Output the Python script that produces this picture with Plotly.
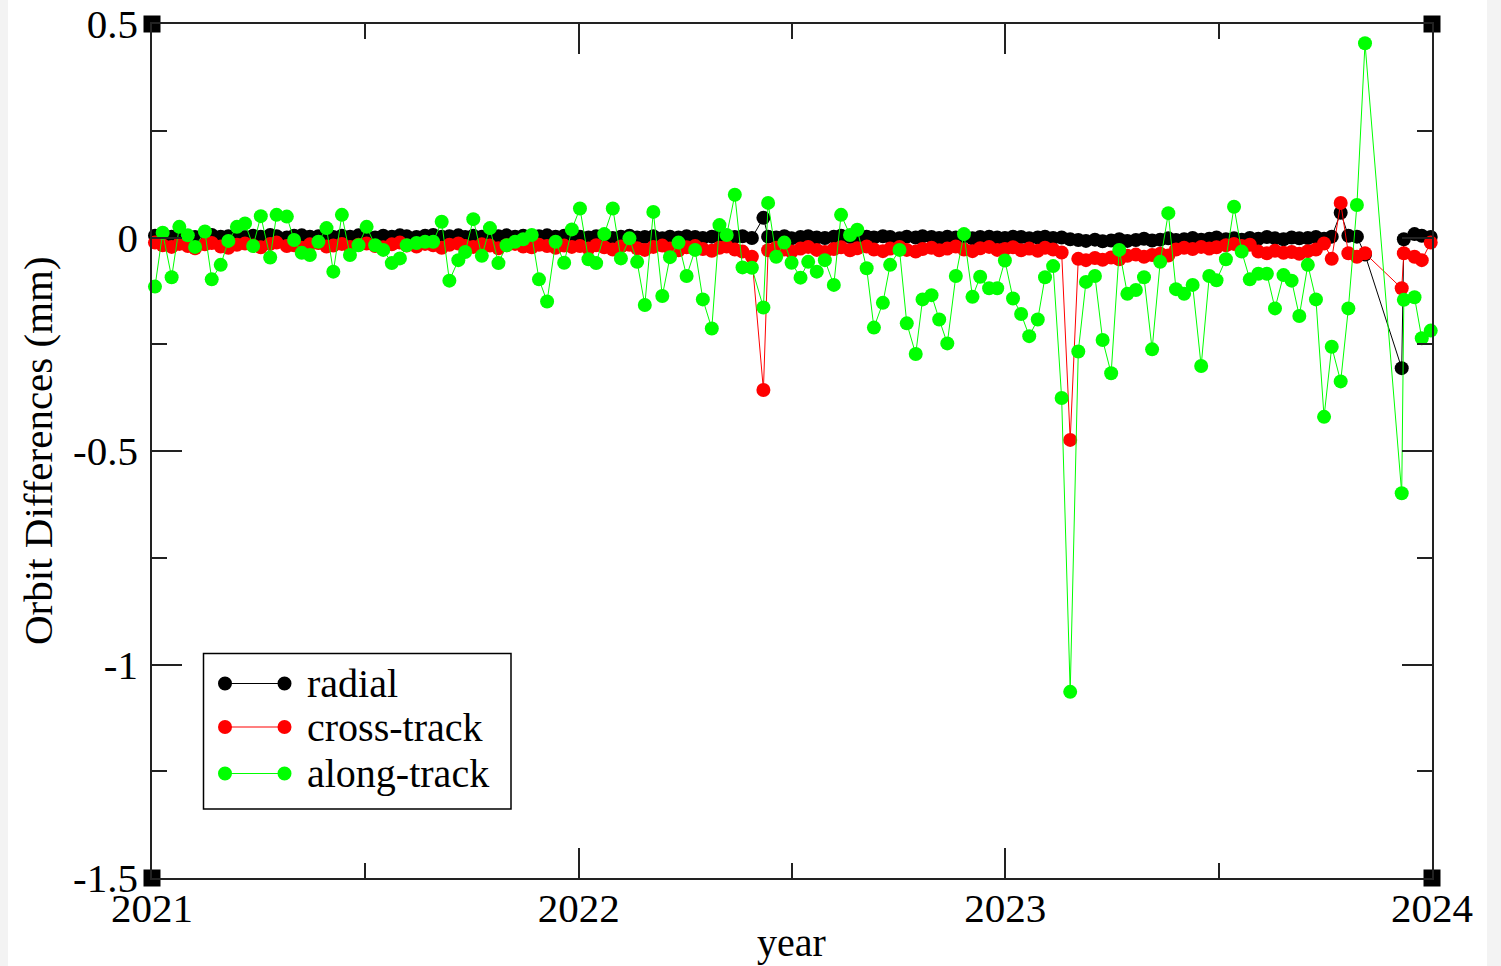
import plotly.graph_objects as go

# Epochs in decimal years
epoch = [
    2021.007, 2021.025, 2021.046, 2021.064, 2021.084, 2021.101, 2021.124, 2021.140, 2021.161, 2021.179,
    2021.199, 2021.218, 2021.237, 2021.255, 2021.277, 2021.292, 2021.316, 2021.333, 2021.351, 2021.370,
    2021.390, 2021.409, 2021.425, 2021.445, 2021.464, 2021.484, 2021.503, 2021.523, 2021.542, 2021.562,
    2021.581, 2021.597, 2021.620, 2021.640, 2021.659, 2021.679, 2021.697, 2021.718, 2021.734, 2021.753,
    2021.773, 2021.792, 2021.812, 2021.831, 2021.851, 2021.870, 2021.890, 2021.907, 2021.926, 2021.946,
    2021.966, 2021.984, 2022.003, 2022.023, 2022.041, 2022.060, 2022.080, 2022.099, 2022.119, 2022.137,
    2022.155, 2022.175, 2022.196, 2022.214, 2022.234, 2022.253, 2022.273, 2022.291, 2022.312, 2022.330,
    2022.347, 2022.366, 2022.384, 2022.406, 2022.433, 2022.444, 2022.463, 2022.482, 2022.499, 2022.520,
    2022.538, 2022.558, 2022.577, 2022.598, 2022.615, 2022.636, 2022.653, 2022.675, 2022.692, 2022.713,
    2022.730, 2022.752, 2022.769, 2022.790, 2022.806, 2022.827, 2022.845, 2022.864, 2022.884, 2022.903,
    2022.923, 2022.941, 2022.962, 2022.981, 2022.999, 2023.018, 2023.037, 2023.056, 2023.076, 2023.093,
    2023.112, 2023.132, 2023.152, 2023.171, 2023.189, 2023.210, 2023.228, 2023.248, 2023.267, 2023.286,
    2023.306, 2023.325, 2023.344, 2023.363, 2023.382, 2023.400, 2023.419, 2023.439, 2023.459, 2023.478,
    2023.495, 2023.517, 2023.536, 2023.554, 2023.573, 2023.593, 2023.613, 2023.632, 2023.652, 2023.671,
    2023.689, 2023.709, 2023.728, 2023.747, 2023.765, 2023.786, 2023.804, 2023.824, 2023.843, 2023.929,
    2023.934, 2023.959, 2023.976, 2023.997,
]

# Orbit differences (mm)
radial = [
    0.004, 0.006, 0.002, 0.005, 0.003, 0.001, 0.004, 0.006, 0.002, 0.003,
    0.005, 0.001, 0.004, 0.002, 0.006, 0.003, 0.000, 0.004, 0.005, 0.002,
    0.003, 0.006, 0.001, 0.004, 0.002, 0.005, 0.003, 0.000, 0.004, 0.002,
    0.005, 0.003, 0.001, 0.004, 0.006, 0.002, 0.003, 0.005, 0.001, 0.004,
    0.002, 0.000, 0.003, 0.005, 0.002, 0.004, 0.001, 0.003, 0.005, 0.002,
    0.004, 0.001, 0.002, 0.000, 0.003, 0.001, -0.001, 0.002, 0.004, 0.000,
    0.001, 0.003, -0.002, 0.002, 0.000, 0.003, 0.001, -0.001, 0.002, 0.004,
    0.000, 0.001, 0.003, -0.001, 0.046, 0.002, 0.000, 0.003, -0.002, 0.001,
    0.003, 0.000, -0.001, 0.002, 0.004, 0.001, -0.001, 0.002, 0.000, 0.003,
    0.001, -0.002, 0.002, 0.000, 0.003, 0.001, -0.001, 0.002, 0.000, 0.003,
    -0.002, 0.001, 0.002, 0.000, -0.001, 0.002, 0.001, -0.002, 0.000, 0.002,
    -0.001, 0.000, -0.004, -0.006, -0.008, -0.005, -0.009, -0.007, -0.004, -0.008,
    -0.006, -0.003, -0.007, -0.005, -0.002, -0.006, -0.004, -0.001, -0.005, -0.003,
    0.000, -0.004, -0.002, -0.005, -0.001, -0.003, 0.001, -0.002, -0.004, 0.000,
    -0.002, -0.001, 0.001, -0.003, 0.002, 0.058, 0.004, 0.002, -0.040, -0.306,
    -0.004, 0.008, 0.004, 0.001,
]

cross_track = [
    -0.012, -0.018, -0.022, -0.015, -0.020, -0.025, -0.016, -0.013, -0.021, -0.024,
    -0.017, -0.014, -0.019, -0.023, -0.015, -0.012, -0.020, -0.018, -0.024, -0.016,
    -0.013, -0.021, -0.019, -0.015, -0.022, -0.017, -0.014, -0.020, -0.023, -0.016,
    -0.012, -0.019, -0.021, -0.015, -0.018, -0.024, -0.017, -0.014, -0.020, -0.022,
    -0.016, -0.019, -0.025, -0.018, -0.015, -0.021, -0.023, -0.017, -0.020, -0.024,
    -0.019, -0.022, -0.020, -0.026, -0.018, -0.023, -0.028, -0.021, -0.017, -0.025,
    -0.029, -0.022, -0.019, -0.026, -0.030, -0.023, -0.020, -0.027, -0.031, -0.024,
    -0.021, -0.028, -0.033, -0.045, -0.357, -0.030, -0.024, -0.028, -0.033, -0.026,
    -0.022, -0.029, -0.034, -0.027, -0.023, -0.030, -0.025, -0.021, -0.028, -0.032,
    -0.026, -0.022, -0.029, -0.033, -0.027, -0.024, -0.030, -0.026, -0.021, -0.028,
    -0.032, -0.025, -0.022, -0.029, -0.027, -0.023, -0.030, -0.026, -0.031, -0.024,
    -0.028, -0.035, -0.474, -0.050, -0.053, -0.048, -0.052, -0.047, -0.051, -0.043,
    -0.040, -0.045, -0.041, -0.038, -0.042, -0.028, -0.024, -0.027, -0.022, -0.026,
    -0.023, -0.018, -0.015, -0.020, -0.017, -0.033, -0.037, -0.031, -0.036, -0.034,
    -0.038, -0.032, -0.028, -0.014, -0.050, 0.081, -0.037, -0.045, -0.037, -0.119,
    -0.037, -0.045, -0.053, -0.012,
]

along_track = [
    -0.115, 0.011, -0.093, 0.025, 0.005, -0.022, 0.014, -0.098, -0.064, -0.008,
    0.025, 0.033, -0.020, 0.050, -0.047, 0.053, 0.049, -0.006, -0.036, -0.041,
    -0.010, 0.022, -0.080, 0.053, -0.041, -0.018, 0.025, -0.018, -0.029, -0.060,
    -0.049, -0.018, -0.013, -0.010, -0.010, 0.037, -0.101, -0.053, -0.034, 0.043,
    -0.043, 0.022, -0.060, -0.018, -0.010, -0.004, 0.006, -0.098, -0.150, -0.010,
    -0.059, 0.019, 0.068, -0.051, -0.060, 0.008, 0.068, -0.049, -0.002, -0.057,
    -0.158, 0.060, -0.137, -0.046, -0.012, -0.090, -0.029, -0.145, -0.213, 0.029,
    0.006, 0.100, -0.070, -0.071, -0.164, 0.081, -0.045, -0.012, -0.059, -0.094,
    -0.057, -0.080, -0.053, -0.111, 0.053, 0.006, 0.018, -0.072, -0.211, -0.153,
    -0.064, -0.029, -0.201, -0.273, -0.145, -0.135, -0.192, -0.248, -0.090, 0.008,
    -0.139, -0.092, -0.119, -0.119, -0.054, -0.143, -0.179, -0.231, -0.192, -0.093,
    -0.067, -0.376, -1.064, -0.267, -0.104, -0.090, -0.240, -0.318, -0.029, -0.132,
    -0.123, -0.093, -0.262, -0.057, 0.057, -0.121, -0.132, -0.111, -0.301, -0.090,
    -0.100, -0.051, 0.072, -0.033, -0.098, -0.085, -0.085, -0.166, -0.088, -0.101,
    -0.184, -0.064, -0.145, -0.420, -0.256, -0.337, -0.166, 0.076, 0.455, -0.599,
    -0.146, -0.140, -0.236, -0.218,
]

series_names = ["radial", "cross-track", "along-track"]
series_values = [radial, cross_track, along_track]
series_colors = ["#000000", "#ff0000", "#00ff00"]

x_tick_vals = [2021, 2022, 2023, 2024]
x_tick_text = ["2021", "2022", "2023", "2024"]
x_minor_vals = [2021.5, 2022.5, 2023.5]
y_tick_vals = [0.5, 0, -0.5, -1, -1.5]
y_tick_text = ["0.5", "0", "-0.5", "-1", "-1.5"]
y_minor_vals = [0.25, -0.25, -0.75, -1.25]

FONT = "Liberation Serif, Times New Roman, serif"
W, H = 1501, 966
M_L, M_R, M_T, M_B = 152, 69, 24, 88
PW, PH = W - M_L - M_R, H - M_T - M_B


def px_x(px):
    return (px - M_L) / PW


def px_y(py):
    return (H - M_B - py) / PH


fig = go.Figure()

for name, vals, col in zip(series_names, series_values, series_colors):
    fig.add_trace(go.Scatter(
        x=epoch, y=vals, name=name, mode="lines+markers",
        line=dict(color=col, width=1),
        marker=dict(color=col, size=14, line=dict(width=0)),
        cliponaxis=False, showlegend=False,
    ))

# frame corner markers
fig.add_trace(go.Scatter(
    x=[2021, 2024, 2021, 2024], y=[0.5, 0.5, -1.5, -1.5], mode="markers",
    marker=dict(symbol="square", size=17, color="#000000"),
    cliponaxis=False, showlegend=False, hoverinfo="skip",
))

axis_common = dict(
    showgrid=False, zeroline=False, showline=True, linecolor="#222222", linewidth=1.8,
    mirror="allticks", ticks="inside", ticklen=30, tickwidth=1.5, tickcolor="#222222",
    tickfont=dict(family=FONT, size=41, color="#000000"), automargin=False,
)

fig.update_xaxes(
    range=[2021, 2024], tickmode="array", tickvals=x_tick_vals, ticktext=x_tick_text,
    minor=dict(tickmode="array", tickvals=x_minor_vals, ticks="inside", ticklen=15,
               tickwidth=1.5, tickcolor="#222222"),
    ticklabelstandoff=-7,
    **axis_common,
)
fig.update_yaxes(
    range=[-1.5, 0.5], tickmode="array", tickvals=y_tick_vals, ticktext=y_tick_text,
    minor=dict(tickmode="array", tickvals=y_minor_vals, ticks="inside", ticklen=15,
               tickwidth=1.5, tickcolor="#222222"),
    ticklabelstandoff=4,
    **axis_common,
)

shapes = [
    # light side bands of the page
    dict(type="rect", xref="paper", yref="paper", x0=px_x(0), x1=px_x(8),
         y0=px_y(H), y1=px_y(0), fillcolor="#f3f3f3", line=dict(width=0), layer="below"),
    dict(type="rect", xref="paper", yref="paper", x0=px_x(1487), x1=px_x(W),
         y0=px_y(H), y1=px_y(0), fillcolor="#f3f3f3", line=dict(width=0), layer="below"),
    # legend box
    dict(type="rect", xref="paper", yref="paper", x0=px_x(203.5), x1=px_x(511),
         y0=px_y(809), y1=px_y(653.5), fillcolor="#ffffff",
         line=dict(color="#000000", width=1.5)),
]
annotations = []

legend_rows_y = [683.5, 727, 773.5]
for name, col, ry in zip(series_names, series_colors, legend_rows_y):
    yy = px_y(ry)
    shapes.append(dict(type="line", xref="paper", yref="paper", x0=px_x(225), x1=px_x(284.5),
                       y0=yy, y1=yy, line=dict(color=col, width=1.2)))
    for cx in (225, 284.5):
        shapes.append(dict(type="circle", xref="paper", yref="paper",
                           xsizemode="pixel", ysizemode="pixel",
                           xanchor=px_x(cx), yanchor=yy, x0=-7, x1=7, y0=-7, y1=7,
                           fillcolor=col, line=dict(width=0)))
    annotations.append(dict(xref="paper", yref="paper", x=px_x(305), y=yy,
                            xanchor="left", yanchor="middle", showarrow=False,
                            text=name, font=dict(family=FONT, size=40, color="#000000")))

annotations.append(dict(xref="paper", yref="paper", x=px_x(791), y=px_y(942),
                        xanchor="center", yanchor="middle", showarrow=False, text="year",
                        font=dict(family=FONT, size=40, color="#000000")))
annotations.append(dict(xref="paper", yref="paper", x=px_x(38), y=px_y(451),
                        xanchor="center", yanchor="middle", showarrow=False, textangle=-90,
                        text="Orbit Differences (mm)",
                        font=dict(family=FONT, size=41, color="#000000")))

fig.update_layout(
    width=W, height=H,
    margin=dict(l=M_L, r=M_R, t=M_T, b=M_B),
    paper_bgcolor="#ffffff", plot_bgcolor="#ffffff",
    shapes=shapes, annotations=annotations, showlegend=False,
    font=dict(family=FONT, size=40, color="#000000"),
)

fig.write_html("out.html")
